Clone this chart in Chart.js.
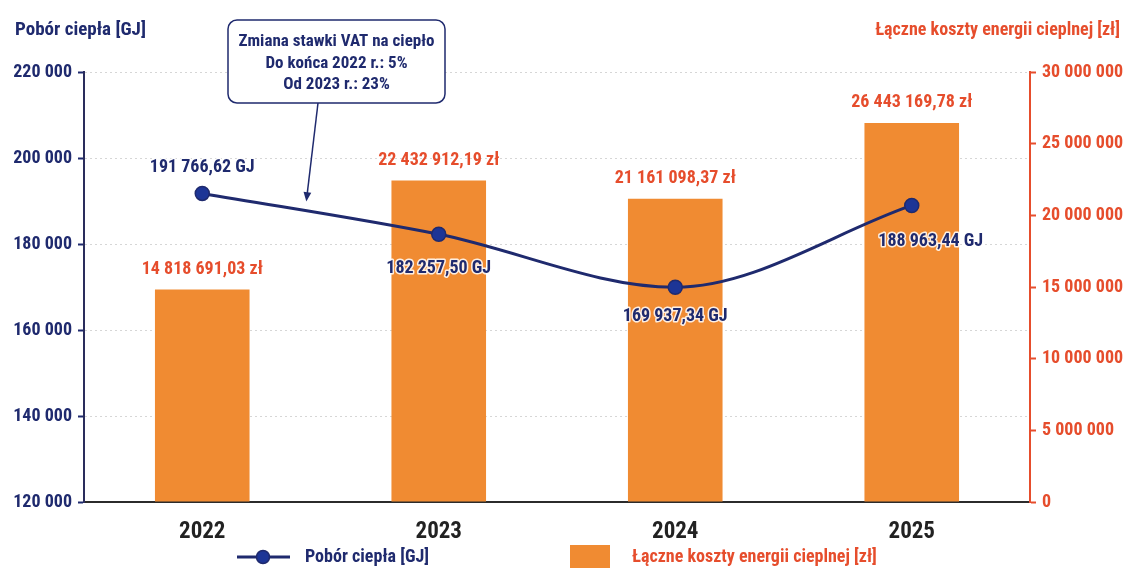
<!DOCTYPE html>
<html>
<head>
<meta charset="utf-8">
<script src="https://cdn.jsdelivr.net/npm/chart.js"></script>
<style>
  html, body { margin: 0; padding: 0; background: #fff; }
  #wrap { width: 1124px; height: 568px; }
</style>
</head>
<body>
<div id="wrap"><canvas id="heatChart" width="1124" height="568"></canvas></div>
<script>
// data
const years = ['2022', '2023', '2024', '2025'];
const heatGJ = [191766.62, 182257.50, 169937.34, 188963.44];
const costPLN = [14818691.03, 22432912.19, 21161098.37, 26443169.78];
const gjTicks = [120000, 140000, 160000, 180000, 200000, 220000];
const plnTicks = [0, 5000000, 10000000, 15000000, 20000000, 25000000, 30000000];
const noteLines = ['Zmiana stawki VAT na ciepło', 'Do końca 2022 r.: 5%', 'Od 2023 r.: 23%'];

const FONT = '"Liberation Sans Narrow", "Roboto Condensed", Roboto, sans-serif';
const NAVY = '#1f2a6e';
const RED = '#e64d2c';
const ORANGE = '#f08b32';

function fmtInt(n) {
	return String(Math.round(n)).replace(/\B(?=(\d{3})+(?!\d))/g, ' ');
}
function fmtDec(n) {
	var parts = n.toFixed(2).split('.');
	return fmtInt(Number(parts[0])) + ',' + parts[1];
}

// offsets of line value labels from their points
const lineLabelOffsets = [[0, -26], [0, 34], [0, 29], [19, 36]];

const extrasPlugin = {
	id: 'extras',
	afterDatasetsDraw: function(chart) {
		var ctx = chart.ctx;
		ctx.save();
		ctx.textAlign = 'center';
		ctx.textBaseline = 'middle';

		// bar values
		var barMeta = chart.getDatasetMeta(1);
		ctx.font = 'bold 18px ' + FONT;
		ctx.fillStyle = RED;
		barMeta.data.forEach(function(el, i) {
			ctx.fillText(fmtDec(costPLN[i]) + ' zł', el.x, el.y - 20);
		});

		// line values
		var lineMeta = chart.getDatasetMeta(0);
		ctx.font = 'bold 18px ' + FONT;
		ctx.lineJoin = 'round';
		lineMeta.data.forEach(function(el, i) {
			var t = fmtDec(heatGJ[i]) + ' GJ';
			var x = el.x + lineLabelOffsets[i][0];
			var y = el.y + lineLabelOffsets[i][1];
			ctx.strokeStyle = 'rgba(255,255,255,0.85)';
			ctx.lineWidth = 3;
			ctx.strokeText(t, x, y);
			ctx.fillStyle = NAVY;
			ctx.fillText(t, x, y);
		});
		ctx.restore();
	},
	afterDraw: function(chart) {
		var ctx = chart.ctx;
		ctx.save();

		// axis titles
		ctx.textBaseline = 'middle';
		ctx.font = 'bold 19px ' + FONT;
		ctx.fillStyle = NAVY;
		ctx.textAlign = 'left';
		ctx.fillText('Pobór ciepła [GJ]', 15, 30);
		ctx.font = 'bold 18px ' + FONT;
		ctx.fillStyle = RED;
		ctx.textAlign = 'right';
		ctx.fillText('Łączne koszty energii cieplnej [zł]', 1120, 30);

		// note box
		var bx = 228, by = 20, bw = 217, bh = 83;
		ctx.fillStyle = '#fff';
		ctx.strokeStyle = NAVY;
		ctx.lineWidth = 1.5;
		ctx.beginPath();
		ctx.roundRect(bx, by, bw, bh, 9);
		ctx.fill();
		ctx.stroke();
		ctx.fillStyle = NAVY;
		ctx.textAlign = 'center';
		ctx.font = 'bold 17px ' + FONT;
		noteLines.forEach(function(t, i) {
			ctx.fillText(t, bx + bw / 2, by + 22 + i * 21.5);
		});

		// arrow from box down to the line, tip just above it
		var pts = chart.getDatasetMeta(0).data;
		var f = 0.44;
		var x1 = pts[0].x + f * (pts[1].x - pts[0].x);
		var y1 = pts[0].y + f * (pts[1].y - pts[0].y) - 10;
		var x0 = 318, y0 = by + bh;
		var ang = Math.atan2(y1 - y0, x1 - x0);
		ctx.lineWidth = 1.5;
		ctx.beginPath();
		ctx.moveTo(x0, y0);
		ctx.lineTo(x1 - 6 * Math.cos(ang), y1 - 6 * Math.sin(ang));
		ctx.stroke();
		ctx.beginPath();
		ctx.moveTo(x1, y1);
		ctx.lineTo(x1 - 10 * Math.cos(ang - 0.4), y1 - 10 * Math.sin(ang - 0.4));
		ctx.lineTo(x1 - 10 * Math.cos(ang + 0.4), y1 - 10 * Math.sin(ang + 0.4));
		ctx.closePath();
		ctx.fill();

		// legend
		var ly = 557;
		ctx.strokeStyle = NAVY;
		ctx.lineWidth = 3;
		ctx.beginPath();
		ctx.moveTo(237, ly);
		ctx.lineTo(290, ly);
		ctx.stroke();
		ctx.beginPath();
		ctx.arc(263, ly, 6.5, 0, Math.PI * 2);
		ctx.fillStyle = '#1d3596';
		ctx.fill();
		ctx.lineWidth = 1.5;
		ctx.stroke();
		ctx.font = 'bold 18px ' + FONT;
		ctx.textAlign = 'left';
		ctx.fillStyle = NAVY;
		ctx.fillText(chart.data.datasets[0].label, 305, ly);
		ctx.fillStyle = ORANGE;
		ctx.fillRect(570, 545, 40, 26);
		ctx.fillStyle = RED;
		ctx.fillText(chart.data.datasets[1].label, 632, ly);

		ctx.restore();
	}
};

var ctx = document.getElementById('heatChart').getContext('2d');
var chart = new Chart(ctx, {
	type: 'bar',
	data: {
		labels: years,
		datasets: [
			{
				type: 'line',
				label: 'Pobór ciepła [GJ]',
				data: heatGJ,
				yAxisID: 'yGJ',
				borderColor: NAVY,
				borderWidth: 3,
				pointBackgroundColor: '#1d3596',
				pointBorderColor: NAVY,
				pointBorderWidth: 1.5,
				pointRadius: 7,
				cubicInterpolationMode: 'monotone',
				order: 1
			},
			{
				type: 'bar',
				label: 'Łączne koszty energii cieplnej [zł]',
				data: costPLN,
				yAxisID: 'yPLN',
				backgroundColor: ORANGE,
				barPercentage: 0.4,
				categoryPercentage: 1,
				order: 2
			}
		]
	},
	options: {
		responsive: false,
		animation: false,
		devicePixelRatio: 1,
		layout: { padding: { top: 72, left: 0, right: 0, bottom: 0 } },
		plugins: {
			legend: { display: false },
			tooltip: { enabled: false }
		},
		scales: {
			x: {
				grid: { display: false },
				border: { color: '#2b2b2b', width: 2 },
				ticks: {
					color: '#222',
					padding: 8,
					font: { family: FONT, size: 23, weight: 'bold' }
				},
				afterFit: function(s) { s.height = 66; }
			},
			yGJ: {
				position: 'left',
				min: 120000,
				max: 220000,
				afterBuildTicks: function(s) {
					s.ticks = gjTicks.map(function(v) { return { value: v }; });
				},
				grid: {
					color: '#d6d6d6',
					lineWidth: 1,
					tickLength: 6,
					tickColor: NAVY,
					tickWidth: 2,
					tickBorderDash: []
				},
				border: { color: '#2a2d5c', width: 2, dash: [2, 3] },
				ticks: {
					color: NAVY,
					padding: 6,
					font: { family: FONT, size: 18, weight: 'bold' },
					callback: function(v) { return fmtInt(v); }
				},
				afterFit: function(s) { s.width = 84; }
			},
			yPLN: {
				position: 'right',
				min: 0,
				max: 30000000,
				afterBuildTicks: function(s) {
					s.ticks = plnTicks.map(function(v) { return { value: v }; });
				},
				grid: {
					drawOnChartArea: false,
					tickLength: 6,
					tickColor: RED,
					tickWidth: 2
				},
				border: { color: RED, width: 2 },
				ticks: {
					color: RED,
					padding: 6,
					font: { family: FONT, size: 18, weight: 'bold' },
					callback: function(v) { return fmtInt(v); }
				},
				afterFit: function(s) { s.width = 94; }
			}
		}
	},
	plugins: [extrasPlugin]
});
</script>
</body>
</html>
